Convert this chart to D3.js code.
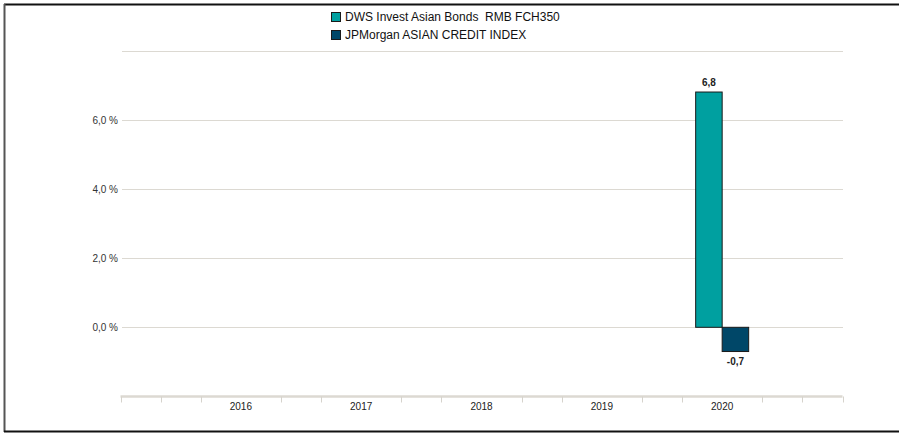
<!DOCTYPE html>
<html><head><meta charset="utf-8">
<script src="https://cdn.jsdelivr.net/npm/d3@7"></script>
<style>body{margin:0;background:#fff;}svg{display:block;font-family:"Liberation Sans",Arial,sans-serif;}text{white-space:pre;}</style>
</head><body>
<svg id="c" width="899" height="433"></svg>
<script>
const years = [2016, 2017, 2018, 2019, 2020];
const seriesNames = ["DWS Invest Asian Bonds  RMB FCH350", "JPMorgan ASIAN CREDIT INDEX"];
const seriesColors = ["#00a0a0", "#004768"];
const fundValues = [null, null, null, null, 6.8];
const indexValues = [null, null, null, null, -0.7];
const yTicks = [0, 2, 4, 6, 8];
const yLabels = ["0,0 %", "2,0 %", "4,0 %", "6,0 %", ""];

const svg = d3.select("#c");
// frame
svg.append("line").attr("x1",4).attr("x2",899).attr("y1",4.5).attr("y2",4.5).attr("stroke","#111").attr("stroke-width",2);
svg.append("line").attr("x1",4.5).attr("x2",4.5).attr("y1",4).attr("y2",432).attr("stroke","#555").attr("stroke-width",2);
svg.append("line").attr("x1",4).attr("x2",899).attr("y1",431.5).attr("y2",431.5).attr("stroke","#111").attr("stroke-width",2);

const x = d3.scaleLinear().domain([2015, 2021]).range([120.5, 842.5]);
const y = d3.scaleLinear().domain([-2, 8]).range([396.5, 50.5]);

// grid
svg.append("g").selectAll("line").data(yTicks).join("line")
  .attr("x1",122).attr("x2",843).attr("y1",d=>Math.round(y(d))+0.5).attr("y2",d=>Math.round(y(d))+0.5)
  .attr("stroke","#dcd9d2").attr("stroke-width",1.2);
svg.append("g").selectAll("text").data(yTicks).join("text")
  .attr("x",118).attr("y",d=>y(d)+4).attr("text-anchor","end")
  .attr("font-size",10).attr("fill","#333").text((d,i)=>yLabels[i]);

// x axis
const minor = d3.range(0, 19).map(i => 2015 + i/3).filter(v => Math.abs(v - Math.round(v)) > 0.01 || v < 2015.5 || v > 2020.5);
const ax = svg.append("g").attr("transform",`translate(0,${y(-2)})`);
ax.append("line").attr("x1",x(2015)).attr("x2",x(2021)).attr("stroke","#dcd9d2").attr("stroke-width",2.5);
ax.selectAll("line.t").data(minor).join("line").attr("class","t")
  .attr("x1",d=>Math.round(x(d))+0.5).attr("x2",d=>Math.round(x(d))+0.5).attr("y1",0).attr("y2",6)
  .attr("stroke","#d6d3cc").attr("stroke-width",1);
ax.selectAll("text").data(years).join("text")
  .attr("x",d=>x(d)).attr("y",13).attr("text-anchor","middle").attr("font-size",10).attr("fill","#222").text(d=>d);

// bars
const bw = 26.5;
const series = [fundValues, indexValues];
series.forEach((vals, si) => {
  const g = svg.append("g");
  const data = years.map((yr,i)=>({yr, v: vals[i]})).filter(d=>d.v!==null);
  g.selectAll("rect").data(data).join("rect")
    .attr("x",d=>x(d.yr) - bw + si*bw).attr("width",bw)
    .attr("y",d=>y(Math.max(0,d.v))).attr("height",d=>Math.abs(y(d.v)-y(0)))
    .attr("fill",seriesColors[si]).attr("stroke","#1a1a1a").attr("stroke-width",1);
  g.selectAll("text").data(data).join("text")
    .attr("x",d=>x(d.yr) - bw/2 + si*bw)
    .attr("y",d=>d.v>=0 ? y(d.v)-6 : y(d.v)+13)
    .attr("text-anchor","middle").attr("font-size",10).attr("font-weight","bold").attr("fill","#222")
    .text(d=>d3.format(".1f")(d.v).replace(".",",").replace("−","-"));
});

// legend
const lg = svg.append("g");
seriesNames.forEach((n,i)=>{
  lg.append("rect").attr("x",331.5).attr("y",12.5+i*18).attr("width",9).attr("height",9)
    .attr("fill",seriesColors[i]).attr("stroke","#1a1a1a").attr("stroke-width",1);
  lg.append("text").attr("x",345).attr("y",21+i*18).attr("font-size",12).attr("fill","#111").text(n);
});
</script>
</body></html>
